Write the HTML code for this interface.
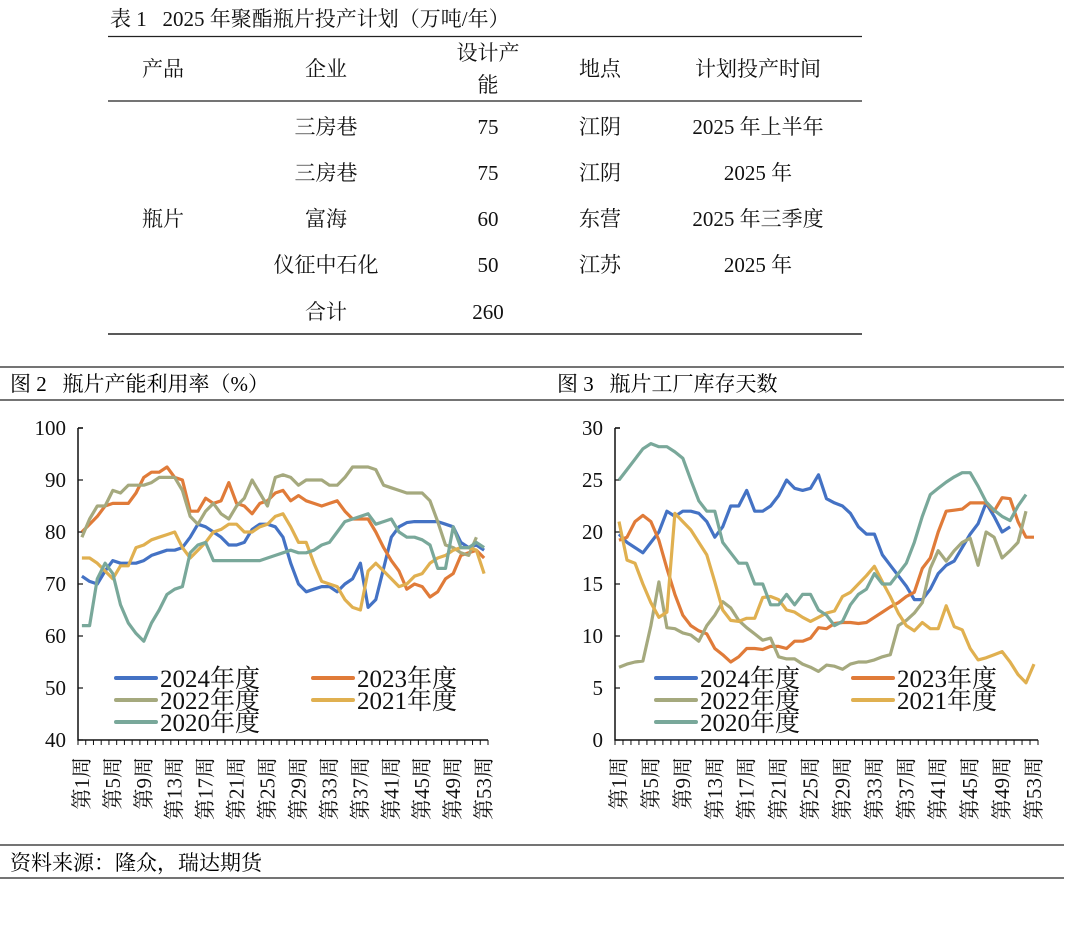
<!DOCTYPE html>
<html><head><meta charset="utf-8">
<style>
html,body{margin:0;padding:0;background:#fff;}
svg{display:block;font-family:"Liberation Serif","Noto Serif CJK SC",serif;}
text{white-space:pre;}
</style></head>
<body>
<svg id="root" width="1080" height="931" viewBox="0 0 1080 931">
<g font-size="21" fill="#111">
  <text x="110" y="26">表 1   2025 年聚酯瓶片投产计划（万吨/年）</text>
  <line x1="108" y1="36.5" x2="862" y2="36.5" stroke="#222" stroke-width="1.2"/>
  <line x1="108" y1="101" x2="862" y2="101" stroke="#222" stroke-width="1.2"/>
  <line x1="108" y1="334" x2="862" y2="334" stroke="#222" stroke-width="1.6"/>
  <g text-anchor="middle">
    <text x="163" y="76">产品</text><text x="326" y="76">企业</text>
    <text x="488" y="60">设计产</text><text x="488" y="92">能</text>
    <text x="600" y="76">地点</text><text x="758" y="76">计划投产时间</text>
  </g>
  <g text-anchor="middle">
    <text x="163" y="226">瓶片</text>
    <text x="326" y="134">三房巷</text><text x="488" y="134">75</text><text x="600" y="134">江阴</text><text x="758" y="134">2025 年上半年</text>
    <text x="326" y="180">三房巷</text><text x="488" y="180">75</text><text x="600" y="180">江阴</text><text x="758" y="180">2025 年</text>
    <text x="326" y="226">富海</text><text x="488" y="226">60</text><text x="600" y="226">东营</text><text x="758" y="226">2025 年三季度</text>
    <text x="326" y="272">仪征中石化</text><text x="488" y="272">50</text><text x="600" y="272">江苏</text><text x="758" y="272">2025 年</text>
    <text x="326" y="319">合计</text><text x="488" y="319">260</text>
  </g>
</g>
<line x1="0" y1="367" x2="1064" y2="367" stroke="#222" stroke-width="1.2"/>
<line x1="0" y1="400" x2="1064" y2="400" stroke="#222" stroke-width="1.2"/>
<text x="10" y="391" font-size="21">图 2   瓶片产能利用率（%）</text>
<text x="557" y="391" font-size="21">图 3   瓶片工厂库存天数</text>
<g id="chart1"></g>
<g id="chart2"></g>
<line x1="0" y1="845" x2="1064" y2="845" stroke="#222" stroke-width="1.2"/>
<line x1="0" y1="878" x2="1064" y2="878" stroke="#222" stroke-width="1.2"/>
<text x="10" y="870" font-size="21">资料来源：隆众，瑞达期货</text>
</svg>
<script>
const seriesNames=["2024年度","2023年度","2022年度","2021年度","2020年度"];
const seriesColors=["#4472c4","#e07b39","#a5a97e","#e0b050","#79a89a"];
const weekLabels=["第1周","第5周","第9周","第13周","第17周","第21周","第25周","第29周","第33周","第37周","第41周","第45周","第49周","第53周"];
const util2024=[71.5,70.5,70,72.5,74.5,74,74,74,74.5,75.5,76,76.5,76.5,77,79,81.5,81,80,79,77.5,77.5,78,80.5,81.5,81.5,81,79,74,70,68.5,69,69.5,69.5,68.5,70,71,74,65.5,67,73,79,81,81.8,82,82,82,82,81.5,81,78,77,77.5,76.5];
const util2023=[80,81.5,83,85,85.5,85.5,85.5,87.5,90.5,91.5,91.5,92.5,90.5,90,84,84,86.5,85.5,86,89.5,85.5,85,83.5,85.5,86,87.5,88,86,87,86,85.5,85,85.5,86,84,82.5,82.5,82.5,80,77,74.5,72.5,69,70,69.5,67.5,68.5,71,72,75.5,76,76.5,75];
const util2022=[79,82.5,85,85,88,87.5,89,89,89,89.5,90.5,90.5,90.5,88,83,81.5,84,85.5,83.5,82.5,85,86.5,90,87.5,85,90.5,91,90.5,89,90,90,90,89,89,90.5,92.5,92.5,92.5,92,89,88.5,88,87.5,87.5,87.5,86,82,77.5,77,76,75.5,79];
const util2021=[75,75,74,72.5,71,73.5,73.5,77,77.5,78.5,79,79.5,80,77,75,76.5,78,80,80.5,81.5,81.5,80,80,81,81.5,83,83.5,81,78,78,74,70.5,70,69.5,67,65.5,65,72.5,74,72.5,71,69.5,70,71.5,72,74,75,75.5,76.5,77,77,76.5,72];
const util2020=[62,62,71,74,72,66,62.5,60.5,59,62.5,65,68,69,69.5,76,77.5,78,74.5,74.5,74.5,74.5,74.5,74.5,74.5,75,75.5,76,76.5,76,76,76.5,77.5,78,80,82,82.5,83,83.5,81.5,82,82.5,80,79,79,78.5,77.5,73,73,81,77,77,78,77];
const utilTicks=[40,50,60,70,80,90,100];
const inv2024=[19.8,19,18.5,18,19,20,22,21.5,22,22,21.8,21,19.5,20.5,22.5,22.5,24,22,22,22.5,23.5,25,24.2,24,24.2,25.5,23.2,22.8,22.5,21.8,20.5,19.8,19.8,17.8,16.8,15.8,14.8,13.5,13.5,14.5,16,16.8,17.2,18.5,19.8,20.8,22.8,21.5,20,20.5];
const inv2023=[19.2,19.5,21,21.6,21,19.2,16.5,14,12,11,10.5,10.2,8.8,8.2,7.5,8,8.8,8.8,8.7,9,9,8.8,9.5,9.5,9.8,10.8,10.7,11.2,11.3,11.3,11.2,11.3,11.8,12.3,12.8,13.2,13.8,14.2,16.5,17.5,20,22,22.1,22.2,22.8,22.8,22.8,22,23.3,23.2,21,19.5,19.5];
const inv2022=[7,7.3,7.5,7.6,11,15.2,10.8,10.7,10.3,10.1,9.5,11,12,13.3,12.7,11.5,10.8,10.2,9.6,9.8,8,7.8,7.8,7.3,7,6.6,7.2,7.1,6.8,7.3,7.5,7.5,7.7,8,8.2,11,11.5,12.2,13.2,16.5,18.2,17.2,18.2,19,19.4,16.8,20,19.5,17.5,18.2,19,22];
const inv2021=[21,17.3,17,15,13.2,11.8,12.3,21.8,21,20.2,19,17.8,15.2,12.5,11.5,11.4,11.7,11.7,13.7,13.8,13.5,12.5,12.3,11.8,11.4,11.8,12.2,12.4,13.8,14.2,15,15.8,16.7,15.2,13.8,12.2,11,10.5,11.3,10.7,10.7,12.9,10.9,10.6,8.8,7.7,7.9,8.2,8.5,7.5,6.3,5.5,7.3];
const inv2020=[25,26,27,28,28.5,28.2,28.2,27.7,27.1,25,23,22,22,19,18,17,17,15,15,13,13,14,13,14,14,12.5,12,11,11.4,13,14,14.5,16,15,15,16,17,19,21.5,23.6,24.2,24.8,25.3,25.7,25.7,24.4,22.9,22.1,21.5,21.1,22.5,23.6];
const invTicks=[0,5,10,15,20,25,30];

const NS="http://www.w3.org/2000/svg";
function mk(tag,attrs,parent){const e=document.createElementNS(NS,tag);for(const k in attrs)e.setAttribute(k,attrs[k]);parent.appendChild(e);return e;}

function drawChart(g,cfg){
  const x0=cfg.x0,x1=cfg.x1,yTop=cfg.yTop,yBot=cfg.yBot,n=53;
  const step=(x1-x0)/n;
  const xs=i=>x0+(i+0.5)*step;
  const ys=v=>yBot-(v-cfg.min)/(cfg.max-cfg.min)*(yBot-yTop);
  const ax=mk('path',{d:`M${x0} ${yTop} H${x0+5} M${x0} ${yTop} V${yBot} H${x1}`,stroke:'#111','stroke-width':1.5,fill:'none'},g);
  
  
  cfg.ticks.forEach(t=>{
    const y=ys(t);
    mk('line',{x1:x0,y1:y,x2:x0+5,y2:y,stroke:'#111','stroke-width':1.2},g);
    const tx=mk('text',{x:x0-12,y:y+7,'text-anchor':'end','font-size':21,fill:'#111'},g);
    tx.textContent=t;
    
    
  });
  for(let i=0;i<=n;i++){mk('line',{x1:x0+i*step,y1:yBot,x2:x0+i*step,y2:yBot+5,stroke:'#111','stroke-width':1},g);}
  weekLabels.forEach((lb,k)=>{
    const cx=xs(k*4);
    const t=mk('text',{transform:`translate(${cx+7},${yBot+17}) rotate(-90)`,'text-anchor':'end','font-size':21,fill:'#111'},g);
    t.textContent=lb;
    
    
  });
  cfg.series.forEach((arr,si)=>{
    const d=arr.map((v,i)=>(i?'L':'M')+xs(i).toFixed(1)+' '+ys(v).toFixed(1)).join(' ');
    const p=mk('path',{d:d,stroke:seriesColors[si],'stroke-width':3.2,fill:'none','stroke-linejoin':'round'},g);
    
    
  });
  const lx=cfg.legX,rows=[678,700,722];
  seriesNames.forEach((nm,si)=>{
    const col=si%2,row=Math.floor(si/2);
    const bx=lx[col],y=rows[row];
    const lg=mk('g',{},g);
    
    
    mk('line',{x1:bx,y1:y,x2:bx+40,y2:y,stroke:seriesColors[si],'stroke-width':4,'stroke-linecap':'round'},lg);
    const t=mk('text',{x:bx+44,y:y+9,'font-size':25,fill:'#111'},lg);
    t.textContent=nm;
  });
}
drawChart(document.getElementById('chart1'),{x0:78,x1:488,yTop:428,yBot:740,min:40,max:100,ticks:utilTicks,
  series:[util2024,util2023,util2022,util2021,util2020],legX:[116,313]});
drawChart(document.getElementById('chart2'),{x0:615,x1:1038,yTop:428,yBot:740,min:0,max:30,ticks:invTicks,
  series:[inv2024,inv2023,inv2022,inv2021,inv2020],legX:[656,853]});
</script>
</body></html>
